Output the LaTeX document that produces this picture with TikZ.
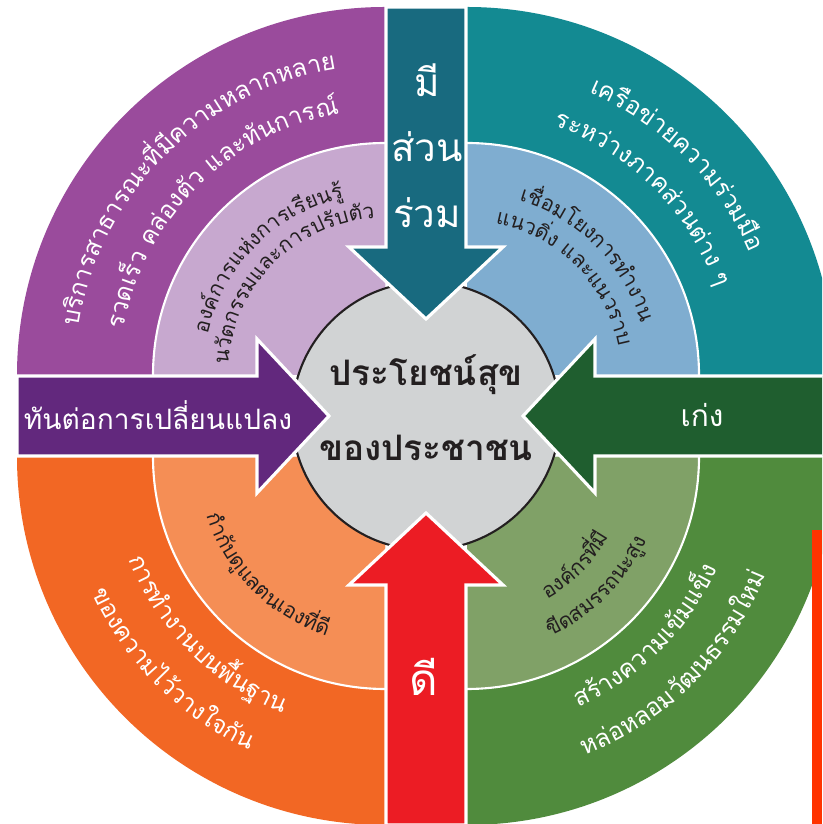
\documentclass[tikz,border=0pt]{standalone}
\usepackage{fontspec}
\newfontfamily\thai[Script=Thai]{Loma}
\usetikzlibrary{decorations.text}

% colores
\definecolor{moradoA}{HTML}{9A4B9C}
\definecolor{moradoB}{HTML}{C7A8CF}
\definecolor{moradoC}{HTML}{62287D}
\definecolor{azulA}{HTML}{138A92}
\definecolor{azulB}{HTML}{7FADD0}
\definecolor{azulC}{HTML}{186A7F}
\definecolor{naranjaA}{HTML}{F26724}
\definecolor{naranjaB}{HTML}{F58E55}
\definecolor{rojoC}{HTML}{EC1C24}
\definecolor{verdeA}{HTML}{508B3D}
\definecolor{verdeB}{HTML}{80A167}
\definecolor{verdeC}{HTML}{1F5E2F}
\definecolor{grisc}{HTML}{D1D3D4}
\definecolor{tinta}{HTML}{231F20}
\definecolor{barra}{HTML}{FF3300}

% formatos de texto
\newcommand{\fext}{\thai\fontsize{14}{17}\selectfont\color{white}}
\newcommand{\fint}{\thai\fontsize{12}{15}\selectfont\color{tinta}}

\begin{document}
\begin{tikzpicture}[x=0.02cm,y=0.02cm]

% definiciones
\clip (0,0) rectangle (822,824);
\coordinate (C) at (426,408); % centro del diagrama

% estilos de linea y relleno
\tikzstyle{borde}     = [draw=white,line width=1.8pt]
\tikzstyle{aro}       = [white,line width=1.2pt]
\tikzstyle{rotflecha} = [text=white,inner sep=0pt]
\tikzstyle{rotcentro} = [text=tinta,inner sep=0pt,font=\thai\bfseries\fontsize{20}{24}\selectfont]

% cuadrante de dos anillos
% #1: esquina del cuadrante ()
% #2: angulo inicial
% #3: color del anillo exterior
% #4: color del anillo interior
\newcommand{\cuadrante}[4]{
	\fill [#3] #1 -- ++(#2:368) arc[start angle=#2,end angle=#2+90,radius=368] -- cycle;
	\fill [#4] #1 -- ++(#2:232) arc[start angle=#2,end angle=#2+90,radius=232] -- cycle;
	\path #1 ++(#2:232) coordinate (A);
	\draw [aro] (A) arc[start angle=#2,end angle=#2+90,radius=232];
}

% flecha hacia el centro
% #1: angulo de la flecha
% #2: color de relleno
\newcommand{\flecha}[2]{
	\begin{scope}[rotate around={#1:(C)}]
	\path (C) ++(409,40) coordinate (P);
	\fill [#2,borde] (P) -- ++(-240,0) -- ++(0,37) -- ++(-72,-77)
		-- ++(72,-77) -- ++(0,37) -- ++(240,0) -- cycle;
	\end{scope}
}

% texto curvo sobre un arco
% #1: esquina del cuadrante ()
% #2: angulo inicial
% #3: angulo final
% #4: radio de la linea base
% #5: formato del texto
% #6: texto
\newcommand{\textocurvo}[6]{
	\path #1 ++(#2:#4) coordinate (T);
	\path [decorate,decoration={text along path,text align=center,
		text={|#5|#6}}] (T) arc[start angle=#2,end angle=#3,radius=#4];
}

% cuadrantes
\cuadrante{(385,449)}{90}{moradoA}{moradoB}
\cuadrante{(467,449)}{0}{azulA}{azulB}
\cuadrante{(385,367)}{180}{naranjaA}{naranjaB}
\cuadrante{(467,367)}{270}{verdeA}{verdeB}

% barra lateral
\fill [barra] (812,0) rectangle (822,294);

% circulo central
\draw [fill=grisc,draw=tinta,line width=1.2pt] (C) circle (134);

% flechas
\flecha{0}{verdeC}
\flecha{90}{azulC}
\flecha{180}{moradoC}
\flecha{270}{rojoC}

% textos de los cuadrantes
\textocurvo{(385,449)}{185}{85}{310}{\fext}{บ{ริ}การสาธารณะ{ที่}{มี}ความหลากหลาย}
\textocurvo{(385,449)}{185}{85}{265}{\fext}{รวดเ{ร็}ว ค{ล่}อง{ตั}ว และ{ทั}นการ{ณ์}}
\textocurvo{(385,449)}{185}{85}{182}{\fint}{อง{ค์}การแ{ห่}งการเ{รี}ยน{รู้}}
\textocurvo{(385,449)}{185}{85}{157}{\fint}{น{วั}ตกรรมและการป{รั}บ{ตั}ว}

\textocurvo{(467,449)}{95}{-5}{308}{\fext}{เค{รื}อ{ข่}ายความ{ร่}วม{มื}อ}
\textocurvo{(467,449)}{95}{-5}{264}{\fext}{ระห{ว่}างภาค{ส่}วน{ต่}าง ๆ}
\textocurvo{(467,449)}{95}{-5}{182}{\fint}{เ{ชื่}อมโยงการทำงาน}
\textocurvo{(467,449)}{95}{-5}{154}{\fint}{แนว{ดิ่}ง และแนวราบ}

\textocurvo{(385,367)}{175}{275}{276}{\fext}{การทำงานบน{พื้}นฐาน}
\textocurvo{(385,367)}{175}{275}{323}{\fext}{ของความไ{ว้}วางใจ{กั}น}
\textocurvo{(385,367)}{175}{275}{188}{\fint}{กำ{กั}บ{ดู}แลตนเอง{ที่}{ดี}}

\textocurvo{(467,367)}{265}{365}{274}{\fext}{ส{ร้}างความเ{ข้}มแ{ข็}ง}
\textocurvo{(467,367)}{265}{365}{321}{\fext}{ห{ล่}อหลอม{วั}ฒนธรรมให{ม่}}
\textocurvo{(467,367)}{265}{365}{163}{\fint}{อง{ค์}กร{ที่}{มี}}
\textocurvo{(467,367)}{265}{365}{198}{\fint}{{ขี}ดสมรรถนะ{สู}ง}

% rotulos de las flechas
\node [rotflecha,font=\thai\fontsize{22}{26}\selectfont] (mi)   at (427,744) {มี};
\node [rotflecha,font=\thai\fontsize{22}{26}\selectfont] (suan) at (427,677) {ส่วน};
\node [rotflecha,font=\thai\fontsize{22}{26}\selectfont] (ruam) at (427,611) {ร่วม};
\node [rotflecha,font=\thai\fontsize{16}{20}\selectfont] (than) at (158,409) {ทันต่อการเปลี่ยนแปลง};
\node [rotflecha,font=\thai\fontsize{17}{20}\selectfont] (keng) at (702,409) {เก่ง};
\node [rotflecha,font=\thai\fontsize{25}{30}\selectfont] (di)   at (424,147) {ดี};

% rotulo central
\node [rotcentro] (linea1) at (426,449) {ประโยชน์สุข};
\node [rotcentro] (linea2) at (426,376) {ของประชาชน};

\end{tikzpicture}
\end{document}
